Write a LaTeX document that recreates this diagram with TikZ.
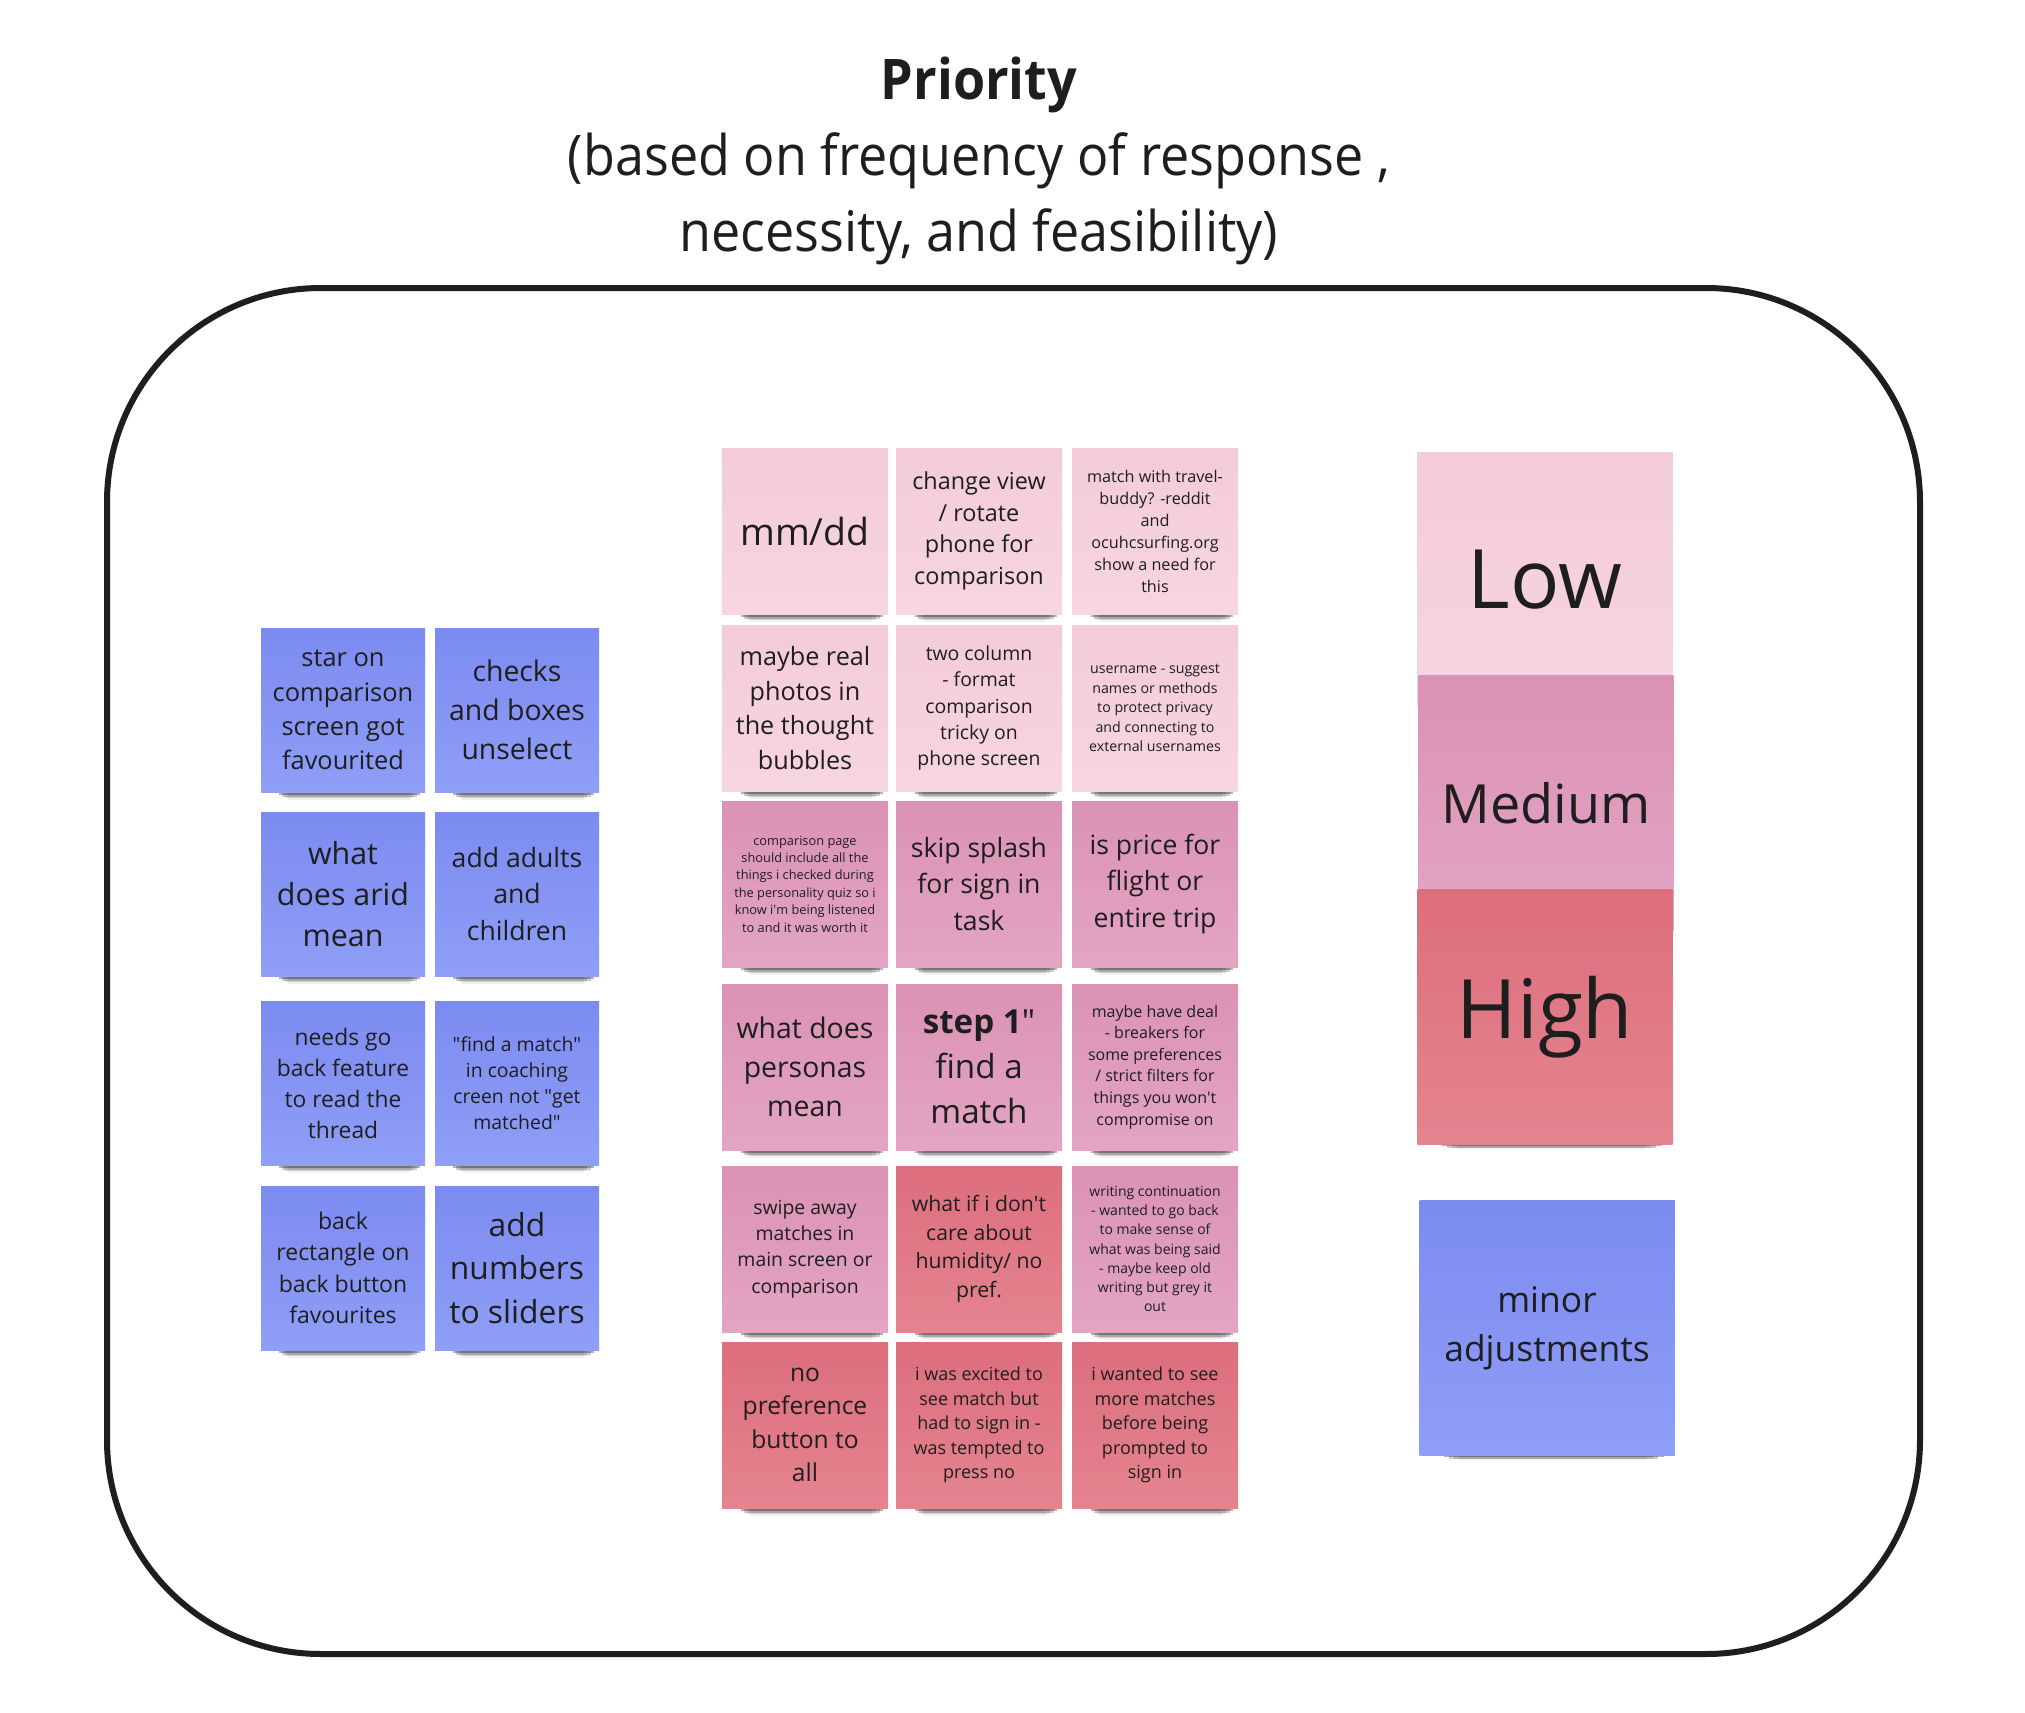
\documentclass[tikz,border=0pt]{standalone}
\usepackage{fontspec}
\setmainfont{Open Sans}
\newfontfamily\titlefont[FakeStretch=0.93]{Open Sans}
\usetikzlibrary{shadows}

\definecolor{inkgrey}{HTML}{1E1E1E}
\definecolor{lowtop}{HTML}{F3CBDA}
\definecolor{lowbot}{HTML}{F7D5E2}
\definecolor{medtop}{HTML}{DB92B4}
\definecolor{medbot}{HTML}{E3A5C4}
\definecolor{hightop}{HTML}{DD6E7D}
\definecolor{highbot}{HTML}{E4848F}
\definecolor{bluetop}{HTML}{7C8BF0}
\definecolor{bluebot}{HTML}{8F9EF6}

\def\nf#1#2{\fontsize{#1pt}{#2pt}\selectfont}
\def\q{\textquotedbl}
\def\ap{\textquotesingle}

\tikzset{
	sticky/.style={rectangle, minimum size=#1, inner sep=2pt, align=center, text=inkgrey,
		general shadow={shadow xshift=4pt, shadow yshift=-0.13*#1-9pt, shadow scale=.74, opacity=.06, fill=black},
		general shadow={shadow xshift=4pt, shadow yshift=-0.11*#1-6.5pt, shadow scale=.78, opacity=.12, fill=black},
		general shadow={shadow xshift=4pt, shadow yshift=-0.09*#1-4.5pt, shadow scale=.82, opacity=.2, fill=black},
		general shadow={shadow xshift=4pt, shadow yshift=-0.07*#1-2.5pt, shadow scale=.86, opacity=.3, fill=black}},
	sticky/.default=83pt,
	lownote/.style={sticky=#1, top color=lowtop, bottom color=lowbot},
	lownote/.default=83pt,
	mednote/.style={sticky=#1, top color=medtop, bottom color=medbot},
	mednote/.default=83pt,
	highnote/.style={sticky=#1, top color=hightop, bottom color=highbot},
	highnote/.default=83pt,
	bluenote/.style={sticky=#1, top color=bluetop, bottom color=bluebot},
	bluenote/.default=82pt,
}

\begin{document}
\begin{tikzpicture}[x=0.5pt, y=-0.5pt]
		%%%%% START %%%%%
		\fill[white] (0,0) rectangle (2025,1713);
		\useasboundingbox (0,0) rectangle (2025,1713);
		
		% heading
		\node[text=inkgrey, font=\titlefont\bfseries\nf{28}{38}] (head) at (979,85) {Priority};
		\node[text=inkgrey, align=center, font=\titlefont\nf{28}{38}] (sub) at (979,199) {(based on frequency of response ,\\necessity, and feasibility)};
		
		% board
		\draw[line width=3pt, color=inkgrey, rounded corners=107pt] (107,288) rectangle (1920,1654);
		
		% minor adjustments (blue)
		\node[bluenote, font=\nf{12.7}{17.2}] (star) at (343,710) {star on\\comparison\\screen got\\favourited};
		\node[bluenote, font=\nf{14.2}{19.4}] (checks) at (517,710) {checks\\and boxes\\unselect};
		\node[bluenote, font=\nf{15.2}{20.6}] (arid) at (343,894) {what\\does arid\\mean};
		\node[bluenote, font=\nf{13.3}{18.1}] (adults) at (517,894) {add adults\\and\\children};
		\node[bluenote, font=\nf{11.4}{15.5}] (goback) at (343,1083) {needs go\\back feature\\to read the\\thread};
		\node[bluenote, font=\nf{9.7}{13.1}] (coaching) at (517,1083) {\q find a match\q\\in coaching\\creen not \q get\\matched\q};
		\node[bluenote, font=\nf{11.5}{15.7}] (backrect) at (343,1268) {back\\rectangle on\\back button\\favourites};
		\node[bluenote, font=\nf{15.9}{21.6}] (sliders) at (517,1268) {add\\numbers\\to sliders};
		
		% priority grid
		\node[lownote, font=\nf{18.7}{25}] (mmdd) at (805,531) {mm/dd};
		\node[lownote, font=\nf{11.7}{15.9}] (rotate) at (979,531) {change view\\/ rotate\\phone for\\comparison};
		\node[lownote, font=\nf{8.1}{11}] (travel) at (1155,531) {match with travel-\\buddy? -reddit\\and\\ocuhcsurfing.org\\show a need for\\this};
		
		\node[lownote, font=\nf{12.6}{17.2}] (photos) at (805,708) {maybe real\\photos in\\the thought\\bubbles};
		\node[lownote, font=\nf{9.7}{13.2}] (twocol) at (979,708) {two column\\- format\\comparison\\tricky on\\phone screen};
		\node[lownote, font=\nf{7.1}{9.7}] (username) at (1155,708) {username - suggest\\names or methods\\to protect privacy\\and connecting to\\external usernames};
		
		\node[mednote, font=\nf{6.4}{8.7}] (quiz) at (805,884) {comparison page\\should include all the\\things i checked during\\the personality quiz so i\\know i\ap m being listened\\to and it was worth it};
		\node[mednote, font=\nf{13.3}{18.1}] (splash) at (979,884) {skip splash\\for sign in\\task};
		\node[mednote, font=\nf{13.3}{18.1}] (price) at (1155,884) {is price for\\flight or\\entire trip};
		
		\node[mednote, font=\nf{14.2}{19.4}] (personas) at (805,1067) {what does\\personas\\mean};
		\node[mednote, font=\nf{16.6}{22.6}] (stepone) at (979,1067) {\textbf{step 1}\q\\find a\\match};
		\node[mednote, font=\nf{8}{10.8}] (breakers) at (1155,1067) {maybe have deal\\- breakers for\\some preferences\\/ strict filters for\\things you won\ap t\\compromise on};
		
		\node[mednote, font=\nf{9.7}{13.1}] (swipe) at (805,1249) {swipe away\\matches in\\main screen or\\comparison};
		\node[highnote, font=\nf{10.6}{14.4}] (humidity) at (979,1249) {what if i don\ap t\\care about\\humidity/ no\\pref.};
		\node[mednote, font=\nf{7}{9.6}] (writing) at (1155,1249) {writing continuation\\- wanted to go back\\to make sense of\\what was being said\\- maybe keep old\\writing but grey it\\out};
		
		\node[highnote, font=\nf{12.3}{16.8}] (nopref) at (805,1425) {no\\preference\\button to\\all};
		\node[highnote, font=\nf{9}{12.3}] (excited) at (979,1425) {i was excited to\\see match but\\had to sign in -\\was tempted to\\press no};
		\node[highnote, font=\nf{9}{12.3}] (signin) at (1155,1425) {i wanted to see\\more matches\\before being\\prompted to\\sign in};
		
		% key
		\node[lownote=127.5pt, font=\nf{41}{50}] (low) at (1545,580) {Low};
		\node[mednote=127.5pt, font=\nf{27}{36}] (medium) at (1546,803) {Medium};
		\node[highnote=127.5pt, font=\nf{41}{50}] (high) at (1545,1017) {High};
		\node[bluenote=127.5pt, font=\nf{17.7}{24.5}] (minor) at (1547,1328) {minor\\adjustments};
		
		%%%%% END %%%%%
\end{tikzpicture}
\end{document}
